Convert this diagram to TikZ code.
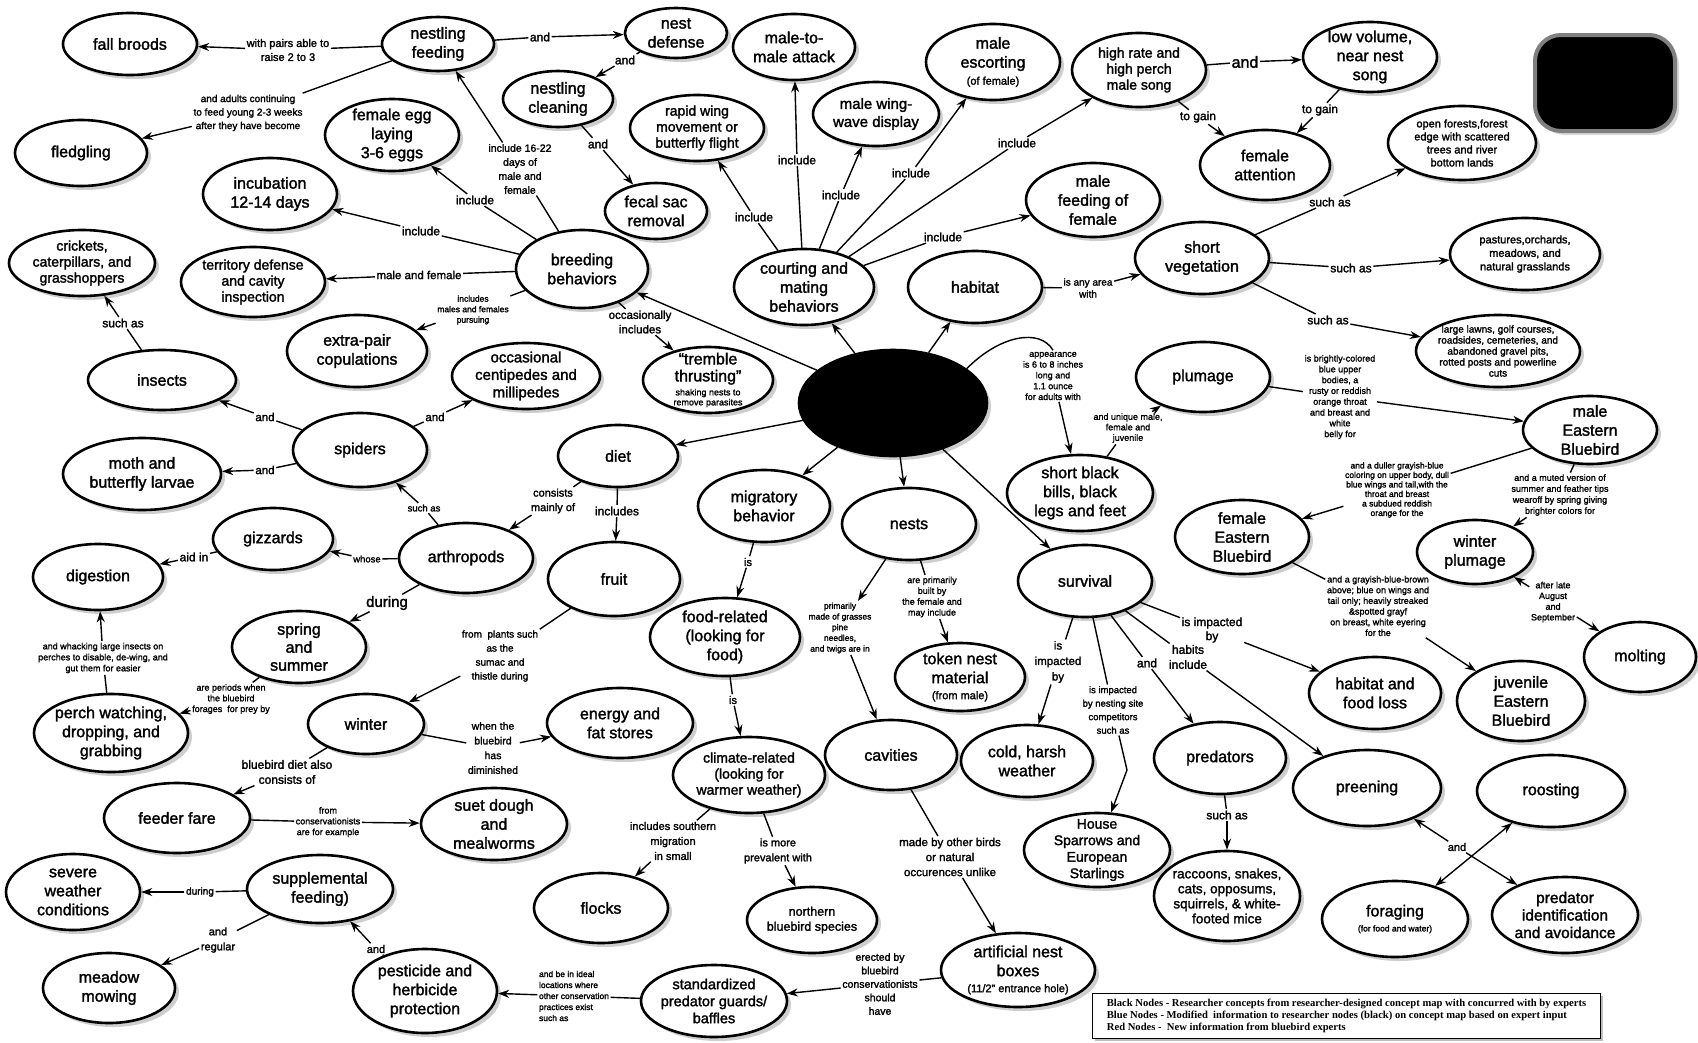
\documentclass[tikz,border=0pt]{standalone}
\usepackage{fontspec}
\setmainfont{Liberation Sans}[FakeBold=1.8]
\newfontfamily\legfont{Liberation Serif}
\usetikzlibrary{shapes.geometric,arrows.meta,shadows}
\newcommand\fsz[2]{\fontsize{#1}{#2}\selectfont}
\newcommand\cmlink[3]{\draw[ln] (#1) -- (#2); \draw[ar] (#2) -- (#3);}
\begin{document}
\begin{tikzpicture}[x=1pt,y=-1pt,
  cn/.style={ellipse, draw, line width=2.6pt, fill=white, inner sep=-10pt, align=center, font=\fsz{16}{19},
     drop shadow={shadow xshift=4pt,shadow yshift=-4pt,fill=black!38}},
  wh/.style 2 args={minimum width=#1, minimum height=#2},
  lb/.style={align=center, inner sep=1.5pt, font=\fsz{12}{14}},
  ln/.style={line width=1.4pt},
  ar/.style={line width=1.4pt, -{Stealth[length=11pt,width=8pt]}},
]
\useasboundingbox (0,0) rectangle (1698,1042);

% ---------------- concept nodes ----------------
\node[cn,wh={134}{62}] (fall) at (130,44) {fall broods};
\node[cn,wh={132}{66}] (fledg) at (81,153) {fledgling};
\node[cn,wh={134}{72}] (egg) at (392,135) {female egg\\laying\\3-6 eggs};
\node[cn,wh={134}{72}] (incub) at (270,194) {incubation\\12-14 days};
\node[cn,wh={146}{66},font=\fsz{14}{16}] (crick) at (82,263) {crickets,\\caterpillars, and\\grasshoppers};
\node[cn,wh={144}{70},font=\fsz{14}{16}] (terr) at (253,282) {territory defense\\and cavity\\inspection};
\node[cn,wh={140}{72}] (extra) at (357,351) {extra-pair\\copulations};
\node[cn,wh={112}{54}] (nfeed) at (438,44) {nestling\\feeding};
\node[cn,wh={102}{50}] (ndef) at (676,33) {nest\\defense};
\node[cn,wh={122}{66}] (m2m) at (794,47) {male-to-\\male attack};
\node[cn,wh={110}{56}] (nclean) at (558,99) {nestling\\cleaning};
\node[cn,wh={134}{66},font=\fsz{14}{16}] (rapid) at (697,128) {rapid wing\\movement or\\butterfly flight};
\node[cn,wh={102}{56}] (fecal) at (656,211) {fecal sac\\removal};
\node[cn,wh={132}{78}] (breed) at (582,269) {breeding\\behaviors};
\node[cn,wh={140}{76}] (court) at (804,287) {courting and\\mating\\behaviors};
\node[cn,wh={126}{64},font=\fsz{15}{18}] (wing) at (876,114) {male wing-\\wave display};
\node[cn,wh={134}{76}] (escort) at (993,62) {male\\escorting\\[-2pt]{\fsz{11}{12}(of female)}};
\node[cn,wh={134}{74},font=\fsz{14}{16}] (song) at (1139,70) {high rate and\\high perch\\male song};
\node[cn,wh={134}{74}] (mfeed) at (1093,200) {male\\feeding of\\female};
\node[cn,wh={134}{72}] (habitat) at (975,287) {habitat};
\node[cn,wh={134}{72}] (shortveg) at (1202,258) {short\\vegetation};
\node[cn,wh={130}{70}] (fatt) at (1265,165) {female\\attention};
\node[cn,wh={134}{70}] (lowvol) at (1370,57) {low volume,\\near nest\\song};
\node[cn,wh={148}{74},font=\fsz{11}{13}] (openf) at (1462,143) {open forests,forest\\edge with scattered\\trees and river\\bottom lands};
\node[cn,wh={150}{72},font=\fsz{11}{13.5}] (past) at (1525,254) {pastures,orchards,\\meadows, and\\natural grasslands};
\node[cn,wh={164}{72},font=\fsz{10}{11}] (lawns) at (1498,351) {large lawns, golf courses,\\roadsides, cemeteries, and\\abandoned gravel pits,\\rotted posts and powerline\\cuts};
\node[cn,wh={148}{60}] (insects) at (162,380) {insects};
\node[cn,wh={134}{74}] (spiders) at (360,450) {spiders};
\node[cn,wh={158}{72}] (moth) at (142,474) {moth and\\butterfly larvae};
\node[cn,wh={120}{62}] (gizz) at (273,539) {gizzards};
\node[cn,wh={130}{66}] (dig) at (98,577) {digestion};
\node[cn,wh={134}{72},font=\fsz{16}{18}] (spring) at (299,647) {spring\\and\\summer};
\node[cn,wh={134}{70}] (arth) at (466,558) {arthropods};
\node[cn,wh={148}{66},font=\fsz{15}{17.5}] (centi) at (526,376) {occasional\\centipedes and\\millipedes};
\node[cn,wh={130}{66},font=\fsz{16}{17}] (tremble) at (708,380) {“tremble\\thrusting”\\[-3pt]{\fsz{9}{10}shaking nests to}\\[-7pt]{\fsz{9}{10}remove parasites}};
\node[cn,wh={120}{62}] (diet) at (618,456) {diet};
\node[cn,wh={132}{72}] (migr) at (764,506) {migratory\\behavior};
\node[cn,wh={132}{74}] (fruit) at (614,579) {fruit};
\node[cn,wh={150}{78}] (foodrel) at (725,637) {food-related\\(looking for\\food)};
\node[cn,wh={188}{106},fill=black] (central) at (893,403) {};
\node[cn,wh={134}{70}] (plumage) at (1203,377) {plumage};
\node[cn,wh={146}{76}] (bills) at (1080,493) {short black\\bills, black\\legs and feet};
\node[cn,wh={134}{72}] (nests) at (909,524) {nests};
\node[cn,wh={134}{72}] (surv) at (1085,581) {survival};
\node[cn,wh={134}{74}] (femEB) at (1242,537) {female\\Eastern\\Bluebird};
\node[cn,wh={130}{68}] (token) at (960,677) {token nest\\material\\[-3pt]{\fsz{11}{12}(from male)}};
\node[cn,wh={134}{68}] (maleEB) at (1590,430) {male\\Eastern\\Bluebird};
\node[cn,wh={116}{64}] (wplum) at (1475,552) {winter\\plumage};
\node[cn,wh={112}{70}] (molt) at (1640,657) {molting};
\node[cn,wh={132}{72}] (hfl) at (1375,693) {habitat and\\food loss};
\node[cn,wh={128}{80}] (juv) at (1521,701) {juvenile\\Eastern\\Bluebird};
\node[cn,wh={154}{78}] (perch) at (111,733) {perch watching,\\dropping, and\\grabbing};
\node[cn,wh={116}{60}] (winter) at (366,724) {winter};
\node[cn,wh={146}{70}] (feeder) at (177,818) {feeder fare};
\node[cn,wh={134}{76}] (severe) at (73,892) {severe\\weather\\conditions};
\node[cn,wh={146}{68}] (supp) at (320,889) {supplemental\\feeding)};
\node[cn,wh={132}{70}] (meadow) at (109,988) {meadow\\mowing};
\node[cn,wh={144}{84}] (pest) at (425,991) {pesticide and\\herbicide\\protection};
\node[cn,wh={146}{70}] (energy) at (620,723) {energy and\\fat stores};
\node[cn,wh={146}{72}] (suet) at (494,824) {suet dough\\and\\mealworms};
\node[cn,wh={152}{76},font=\fsz{14}{16}] (climate) at (749,775) {climate-related\\(looking for\\warmer weather)};
\node[cn,wh={134}{70}] (flocks) at (601,908) {flocks};
\node[cn,wh={130}{66},font=\fsz{12.5}{15}] (north) at (812,920) {northern\\bluebird species};
\node[cn,wh={146}{72},font=\fsz{14.5}{17}] (guards) at (714,1001) {standardized\\predator guards/\\baffles};
\node[cn,wh={132}{70}] (cavities) at (891,755) {cavities};
\node[cn,wh={132}{72}] (cold) at (1027,761) {cold, harsh\\weather};
\node[cn,wh={132}{72}] (pred) at (1220,758) {predators};
\node[cn,wh={146}{74},font=\fsz{14}{16.5}] (house) at (1097,850) {House\\Sparrows and\\European\\Starlings};
\node[cn,wh={146}{90},font=\fsz{13.5}{15}] (racc) at (1227,896) {raccoons, snakes,\\cats, opposums,\\squirrels, \& white-\\footed mice};
\node[cn,wh={154}{74}] (boxes) at (1018,970) {artificial nest\\boxes\\[-3pt]{\fsz{11}{12}(11/2” entrance hole)}};
\node[cn,wh={148}{76}] (preen) at (1367,788) {preening};
\node[cn,wh={148}{72}] (roost) at (1551,791) {roosting};
\node[cn,wh={146}{76}] (forag) at (1395,919) {foraging\\[-4pt]{\fsz{8.5}{9}(for food and water)}};
\node[cn,wh={146}{76},font=\fsz{15.5}{17.5}] (predid) at (1565,915) {predator\\identification\\and avoidance};

\node[draw=black!50, line width=4pt, fill=black, rounded corners=26pt, minimum width=140, minimum height=96,
      drop shadow={shadow xshift=4pt,shadow yshift=-4pt,fill=black!30}] (bbox) at (1605,83) {};

\node[draw, line width=1.2pt, fill=white, anchor=north west, inner xsep=4pt, inner ysep=3pt, align=left,
      minimum width=508, minimum height=45, font=\legfont\bfseries\fsz{10.6}{12},
      drop shadow={shadow xshift=2pt,shadow yshift=-2pt,fill=black!50}] (legend) at (1092,993)
  {Black Nodes - Researcher concepts from researcher-designed concept map with concurred with by experts\\
   Blue Nodes - Modified\ \ information to researcher nodes (black) on concept map based on expert input\\
   Red Nodes -\ \ New information from bluebird experts};

% ---------------- linking phrases ----------------
\node[lb,font=\fsz{11}{14}] (l1) at (288,50) {with pairs able to\\raise 2 to 3};
\node[lb,font=\fsz{10}{13.5}] (l2) at (248,113) {and adults continuing\\to feed young 2-3 weeks\\after they have become};
\node[lb] (l3) at (540,37) {and};
\node[lb] (l4) at (625,60) {and};
\node[lb] (l5) at (598,144) {and};
\node[lb,font=\fsz{10.5}{14}] (l6) at (520,169) {include 16-22\\days of\\male and\\female};
\node[lb] (l7) at (475,200) {include};
\node[lb] (l8) at (421,231) {include};
\node[lb,font=\fsz{11.5}{14}] (l9) at (419,275) {male and female};
\node[lb,font=\fsz{8.5}{10.5}] (l10) at (473,310) {includes\\males and females\\pursuing};
\node[lb,font=\fsz{11.5}{14.5}] (l11) at (640,322) {occasionally\\includes};
\node[lb] (l12) at (797,160) {include};
\node[lb] (l13) at (841,195) {include};
\node[lb] (l14) at (754,217) {include};
\node[lb] (l15) at (911,173) {include};
\node[lb] (l16) at (1017,143) {include};
\node[lb] (l17) at (943,237) {include};
\node[lb,font=\fsz{16}{18}] (l18) at (1245,62) {and};
\node[lb] (l19) at (1198,117) {to gain};
\node[lb] (l20) at (1320,110) {to gain};
\node[lb,font=\fsz{10}{12}] (l21) at (1088,288) {is any area\\with};
\node[lb] (l22) at (1330,202) {such as};
\node[lb] (l23) at (1351,268) {such as};
\node[lb] (l24) at (1328,320) {such as};
\node[lb,font=\fsz{9}{10.8}] (l25) at (1053,376) {appearance\\is 6 to 8 inches\\long and\\1.1 ounce\\for adults with};
\node[lb,font=\fsz{9}{10.5}] (l26) at (1128,428) {and unique male,\\female and\\juvenile};
\node[lb,font=\fsz{9}{10.8}] (l27) at (1340,397) {is brightly-colored\\blue upper\\bodies, a\\rusty or reddish\\orange throat\\and breast and\\white\\belly for};
\node[lb,font=\fsz{8.5}{9.5}] (l28) at (1397,490) {and a duller grayish-blue\\coloring on upper body, dull\\blue wings and tail,with the\\throat and breast\\a subdued reddish\\orange for the};
\node[lb,font=\fsz{9}{11}] (l29) at (1560,495) {and a muted version of\\summer and feather tips\\wearoff by spring giving\\brighter colors for};
\node[lb,font=\fsz{9}{10.7}] (l30) at (1378,606) {and a grayish-blue-brown\\above; blue on wings and\\tail only; heavily streaked\\\&spotted grayf\\on breast, white eyering\\for the};
\node[lb,font=\fsz{9}{10.7}] (l31) at (1553,602) {after late\\August\\and\\September};
\node[lb] (l32) at (123,323) {such as};
\node[lb,font=\fsz{11.5}{14}] (l33) at (265,417) {and};
\node[lb,font=\fsz{11.5}{14}] (l34) at (265,470) {and};
\node[lb,font=\fsz{11.5}{14}] (l35) at (435,417) {and};
\node[lb,font=\fsz{9.5}{11}] (l36) at (424,508) {such as};
\node[lb,font=\fsz{9.5}{11}] (l37) at (367,559) {whose};
\node[lb] (l38) at (194,557) {aid in};
\node[lb,font=\fsz{15}{17}] (l39) at (387,603) {during};
\node[lb,font=\fsz{11}{14.5}] (l40) at (553,501) {consists\\mainly of};
\node[lb] (l41) at (617,511) {includes};
\node[lb,font=\fsz{9}{10.7}] (l42) at (231,699) {are periods when\\the bluebird\\forages\ \ for prey by};
\node[lb,font=\fsz{9}{11}] (l43) at (103,658) {and whacking large insects on\\perches to disable, de-wing, and\\gut them for easier};
\node[lb,font=\fsz{10}{14}] (l44) at (500,656) {from\ \ plants such\\as the\\sumac and\\thistle during};
\node[lb,font=\fsz{10.5}{14.7}] (l45) at (493,748) {when the\\bluebird\\has\\diminished};
\node[lb,font=\fsz{12}{15}] (l46) at (287,772) {bluebird diet also\\consists of};
\node[lb,font=\fsz{9}{10.8}] (l47) at (328,822) {from\\conservationists\\are for example};
\node[lb,font=\fsz{10}{12}] (l48) at (200,892) {during};
\node[lb,font=\fsz{11}{15}] (l49) at (218,940) {and\\regular};
\node[lb,font=\fsz{11}{13}] (l50) at (376,949) {and};
\node[lb,font=\fsz{8.5}{11},align=left] (l51) at (574,996) {and be in ideal\\locations where\\other conservation\\practices exist\\such as};
\node[lb,font=\fsz{10.5}{13.5}] (l52) at (880,984) {erected by\\bluebird\\conservationists\\should\\have};
\node[lb,font=\fsz{11.5}{15}] (l53) at (950,857) {made by other birds\\or natural\\occurences unlike};
\node[lb,font=\fsz{11}{13}] (l54) at (748,562) {is};
\node[lb,font=\fsz{11}{13}] (l55) at (733,700) {is};
\node[lb,font=\fsz{11}{15}] (l56) at (673,841) {includes southern\\migration\\in small};
\node[lb,font=\fsz{11}{15}] (l57) at (778,851) {is more\\prevalent with};
\node[lb,font=\fsz{8.5}{10.7}] (l58) at (840,628) {primarily\\made of grasses\\pine\\needles,\\and twigs are in};
\node[lb,font=\fsz{9}{10.8}] (l59) at (932,597) {are primarily\\built by\\the female and\\may include};
\node[lb,font=\fsz{11.5}{15.5}] (l60) at (1058,662) {is\\impacted\\by};
\node[lb,font=\fsz{9.5}{13.5}] (l61) at (1113,710) {is impacted\\by nesting site\\competitors\\such as};
\node[lb] (l62) at (1147,663) {and};
\node[lb,font=\fsz{12}{15}] (l63) at (1188,657) {habits\\include};
\node[lb,font=\fsz{12}{14}] (l64) at (1212,630) {is impacted\\by};
\node[lb] (l65) at (1227,815) {such as};
\node[lb,font=\fsz{11}{13}] (l66) at (1457,847) {and};
\coordinate (kink) at (1127,770);

% ---------------- connectors ----------------
\draw[ar] (central) -- (breed);
\draw[ar] (central) -- (court);
\draw[ar] (central) -- (habitat);
\draw[ar] (central) -- (diet);
\draw[ar] (central) -- (migr);
\draw[ar] (central) -- (nests);
\draw[ar] (central) -- (surv);
\draw[ln] (central.25) .. controls (1000,335) and (1040,328) .. (l25.north);
\draw[ar] (l25) -- (bills);

\cmlink{nfeed}{l1}{fall}
\cmlink{nfeed}{l2}{fledg}
\cmlink{nfeed}{l3}{ndef}
\cmlink{ndef}{l4}{nclean}
\cmlink{nclean}{l5}{fecal}
\cmlink{breed}{l6}{nfeed}
\cmlink{breed}{l7}{egg}
\cmlink{breed}{l8}{incub}
\cmlink{breed}{l9}{terr}
\cmlink{breed}{l10}{extra}
\cmlink{breed}{l11}{tremble}
\cmlink{court}{l12}{m2m}
\cmlink{court}{l13}{wing}
\cmlink{court}{l14}{rapid}
\cmlink{court}{l15}{escort}
\cmlink{court}{l16}{song}
\cmlink{court}{l17}{mfeed}
\cmlink{song}{l18}{lowvol}
\cmlink{song}{l19}{fatt}
\cmlink{lowvol}{l20}{fatt}
\cmlink{habitat}{l21}{shortveg}
\cmlink{shortveg}{l22}{openf}
\cmlink{shortveg}{l23}{past}
\cmlink{shortveg}{l24}{lawns}
\cmlink{bills}{l26}{plumage}
\cmlink{plumage}{l27}{maleEB}
\cmlink{maleEB}{l28}{femEB}
\cmlink{maleEB}{l29}{wplum}
\cmlink{femEB}{l30}{juv}
\draw[ar] (l31) -- (wplum);
\draw[ar] (l31) -- (molt);
\cmlink{insects}{l32}{crick}
\cmlink{spiders}{l33}{insects}
\cmlink{spiders}{l34}{moth}
\cmlink{spiders}{l35}{centi}
\cmlink{arth}{l36}{spiders}
\cmlink{arth}{l37}{gizz}
\cmlink{gizz}{l38}{dig}
\cmlink{arth}{l39}{spring}
\cmlink{diet}{l40}{arth}
\cmlink{diet}{l41}{fruit}
\cmlink{spring}{l42}{perch}
\cmlink{perch}{l43}{dig}
\cmlink{fruit}{l44}{winter}
\cmlink{winter}{l45}{energy}
\cmlink{winter}{l46}{feeder}
\cmlink{feeder}{l47}{suet}
\cmlink{supp}{l48}{severe}
\cmlink{supp}{l49}{meadow}
\cmlink{pest}{l50}{supp}
\cmlink{guards}{l51}{pest}
\cmlink{boxes}{l52}{guards}
\cmlink{cavities}{l53}{boxes}
\cmlink{migr}{l54}{foodrel}
\cmlink{foodrel}{l55}{climate}
\cmlink{climate}{l56}{flocks}
\cmlink{climate}{l57}{north}
\draw[ar] (nests) -- (l58);
\draw[ar] (l58) -- (cavities);
\cmlink{nests}{l59}{token}
\cmlink{surv}{l60}{cold}
\draw[ln] (surv) -- (l61);
\draw[ar] (l61) -- (kink) -- (house);
\cmlink{surv}{l62}{pred}
\cmlink{surv}{l63}{preen}
\cmlink{surv}{l64}{hfl}
\cmlink{pred}{l65}{racc}
\draw[ar] (l66) -- (preen);
\draw[ar] (l66) -- (predid);
\draw[line width=1.4pt, {Stealth[length=11pt,width=8pt]}-{Stealth[length=11pt,width=8pt]}] (forag) -- (roost);
\end{tikzpicture}
\end{document}
